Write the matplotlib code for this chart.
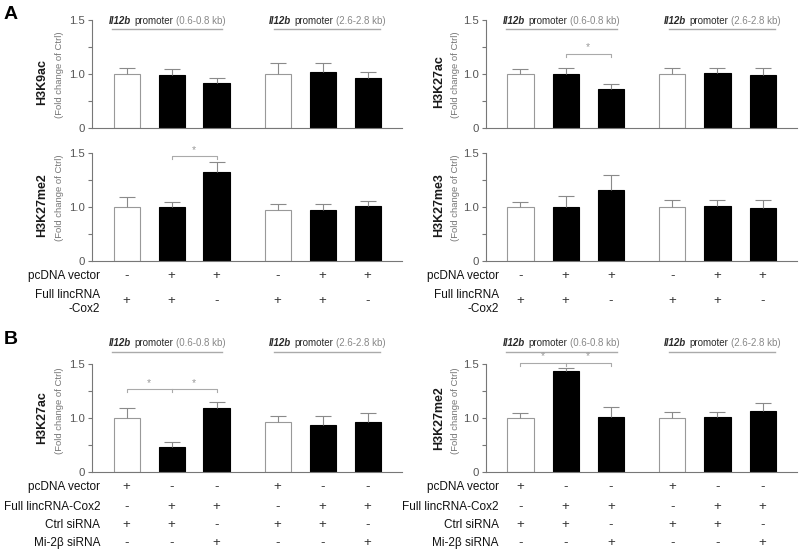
import matplotlib
matplotlib.use('Agg')
import matplotlib.pyplot as plt
import matplotlib.transforms as mtransforms
import numpy as np
from matplotlib.offsetbox import AnnotationBbox, HPacker, TextArea

plt.rcParams['font.family'] = ['Liberation Sans', 'DejaVu Sans']

W, H = 800, 551

# bar positions: two promoter regions, three conditions each
x_pos = [0, 1, 2, 3.36, 4.36, 5.36]
open_bar = [True, False, False, True, False, False]

# panel A
h3k9ac = [1.00, 0.99, 0.83, 1.00, 1.02, 0.93]
h3k9ac_err = [0.06, 0.054, 0.09, 0.10, 0.08, 0.09]
h3k27ac_a = [1.00, 1.00, 0.73, 1.00, 1.01, 0.99]
h3k27ac_a_err = [0.045, 0.06, 0.08, 0.06, 0.05, 0.07]
h3k27me2_a = [1.00, 1.00, 1.33, 0.94, 0.94, 1.015]
h3k27me2_a_err = [0.09, 0.05, 0.085, 0.09, 0.09, 0.04]
h3k27me3_a = [1.00, 1.00, 1.155, 1.00, 1.01, 0.99]
h3k27me3_a_err = [0.05, 0.10, 0.14, 0.065, 0.055, 0.075]

# panel B
h3k27ac_b = [1.00, 0.46, 1.10, 0.93, 0.88, 0.93]
h3k27ac_b_err = [0.095, 0.10, 0.05, 0.09, 0.14, 0.12]
h3k27me2_b = [1.00, 1.44, 1.015, 1.00, 1.015, 1.07]
h3k27me2_b_err = [0.046, 0.03, 0.09, 0.06, 0.045, 0.075]

rows_a = ['pcDNA vector', 'Full lincRNA\n-Cox2']
signs_a = [['-', '+', '+', '-', '+', '+'],
           ['+', '+', '-', '+', '+', '-']]
rows_b = ['pcDNA vector', 'Full lincRNA-Cox2', 'Ctrl siRNA', 'Mi-2\u03b2 siRNA']
signs_b = [['+', '-', '-', '+', '-', '-'],
           ['-', '+', '+', '-', '+', '+'],
           ['+', '+', '-', '+', '+', '-'],
           ['-', '-', '+', '-', '-', '+']]

regions = ['0.6-0.8', '2.6-2.8']


def fwd(v):
    v = np.asarray(v, dtype=float)
    return np.where(v <= 1, v, 1 + (v - 1) * 2)


def inv(d):
    d = np.asarray(d, dtype=float)
    return np.where(d <= 1, d, 1 + (d - 1) / 2)


def px_rect(x0, x1, ytop, ybot):
    return [x0 / W, 1 - ybot / H, (x1 - x0) / W, (ybot - ytop) / H]


def draw_bars(ax, vals, errs):
    for x, v, is_open in zip(x_pos, vals, open_bar):
        ax.bar(x, v, width=0.58, color='white' if is_open else 'black',
               edgecolor='#999999' if is_open else 'black', linewidth=0.8, zorder=2)
    _, caps, _ = ax.errorbar(x_pos, vals, yerr=[np.zeros(len(vals)), errs], fmt='none',
                             ecolor='#8a8a8a', elinewidth=0.8, capsize=6, capthick=0.8, zorder=3)
    caps[0].set_visible(False)
    ax.set_yscale('function', functions=(fwd, inv))
    ax.set_ylim(0, 1.5)
    ax.set_xlim(-0.77, 6.12)
    ax.set_yticks([0, 0.5, 1.0, 1.25, 1.5])
    ax.set_yticklabels(['0', '', '1.0', '', '1.5'])
    ax.minorticks_off()
    ax.set_xticks([])
    ax.tick_params(axis='y', direction='out', length=3, width=0.8, color='#777777',
                   labelsize=8.2, labelcolor='#555555', pad=2)
    for side in ('top', 'right'):
        ax.spines[side].set_visible(False)
    for side in ('left', 'bottom'):
        ax.spines[side].set_color('#777777')
        ax.spines[side].set_linewidth(0.8)


def ylabel(fig, x_px, cy_px, name):
    fig.text(x_px / W, 1 - cy_px / H, name, rotation=90, ha='center', va='center',
             fontsize=9, fontweight='bold', color='#1a1a1a')
    fig.text((x_px + 17) / W, 1 - cy_px / H + 0.014, '(Fold change of Ctrl)', rotation=90,
             ha='center', va='center', fontsize=6.8, color='#777777')


def headers(ax, y_text, y_line):
    tr = mtransforms.blended_transform_factory(ax.transData, ax.transAxes)
    spans = [(x_pos[0] - 0.33, x_pos[2] + 0.13), (x_pos[3] - 0.07, x_pos[5] + 0.28)]
    for (x0, x1), kb in zip(spans, regions):
        ax.plot([x0, x1], [y_line, y_line], transform=tr, color='#aaaaaa', lw=1, clip_on=False)
        pack = HPacker(children=[
            TextArea('Il12b', textprops=dict(fontsize=7, fontstyle='italic', fontweight='bold', color='#2a2a2a')),
            TextArea('promoter', textprops=dict(fontsize=7, color='#2a2a2a')),
            TextArea(f'({kb} kb)', textprops=dict(fontsize=7, color='#888888')),
        ], pad=0, sep=2.2, align='baseline')
        ab = AnnotationBbox(pack, ((x0 + x1) / 2, y_text), xycoords=tr, frameon=False,
                            box_alignment=(0.5, 0.5), pad=0, annotation_clip=False)
        ax.add_artist(ab)


def bracket(ax, xa, xb, y, mids=(), stars=()):
    drop = 0.028
    ax.plot([xa, xa, xb, xb], [y - drop, y, y, y - drop], color='#aaaaaa', lw=0.8, clip_on=False, zorder=4)
    for xm in mids:
        ax.plot([xm, xm], [y, y - drop], color='#aaaaaa', lw=0.8, clip_on=False, zorder=4)
    for xs in stars:
        ax.text(xs, y + 0.012, '*', ha='center', va='bottom', fontsize=7.5, color='#999999', clip_on=False)


def table(fig, ax, label_x_px, labels, signs, label_ys, sign_ys):
    tr = mtransforms.blended_transform_factory(ax.transData, fig.transFigure)
    for lab, row, ly, sy in zip(labels, signs, label_ys, sign_ys):
        fig.text(label_x_px / W, 1 - ly / H, lab, ha='right', va='center', fontsize=8.5,
                 color='#111111', multialignment='right', linespacing=1.15)
        for x, s in zip(x_pos, row):
            ax.text(x, 1 - sy / H, s, transform=tr, ha='center', va='center', fontsize=9.5, color='#333333')


fig = plt.figure(figsize=(W / 100, H / 100), dpi=100)

ax_a1 = fig.add_axes(px_rect(92, 401.7, 20, 128.3))
ax_a2 = fig.add_axes(px_rect(485.7, 797, 20, 128.3))
ax_a3 = fig.add_axes(px_rect(92, 401.7, 153.3, 261))
ax_a4 = fig.add_axes(px_rect(485.7, 797, 153.3, 261))
ax_b1 = fig.add_axes(px_rect(92, 401.7, 364.3, 472.3))
ax_b2 = fig.add_axes(px_rect(485.7, 797, 364.3, 472.3))

draw_bars(ax_a1, h3k9ac, h3k9ac_err)
draw_bars(ax_a2, h3k27ac_a, h3k27ac_a_err)
draw_bars(ax_a3, h3k27me2_a, h3k27me2_a_err)
draw_bars(ax_a4, h3k27me3_a, h3k27me3_a_err)
draw_bars(ax_b1, h3k27ac_b, h3k27ac_b_err)
draw_bars(ax_b2, h3k27me2_b, h3k27me2_b_err)

headers(ax_a1, 0.99, 0.917)
headers(ax_a2, 0.99, 0.917)
headers(ax_b1, 1.197, 1.114)
headers(ax_b2, 1.197, 1.114)

ylabel(fig, 42, 82, 'H3K9ac')
ylabel(fig, 439, 82, 'H3K27ac')
ylabel(fig, 42, 205, 'H3K27me2')
ylabel(fig, 439, 205, 'H3K27me3')
ylabel(fig, 42, 418, 'H3K27ac')
ylabel(fig, 439, 418, 'H3K27me2')

bracket(ax_a2, x_pos[1], x_pos[2], 1.19, stars=[1.5])
bracket(ax_a3, x_pos[1], x_pos[2], 1.475, stars=[1.5])
bracket(ax_b1, x_pos[0], x_pos[2], 1.27, mids=[x_pos[1]], stars=[0.5, 1.5])
bracket(ax_b2, x_pos[0], x_pos[2], 1.515, mids=[x_pos[1]], stars=[0.5, 1.5])

table(fig, ax_a3, 100, rows_a, signs_a, [275.7, 302], [275.7, 300.7])
table(fig, ax_a4, 499, rows_a, signs_a, [275.7, 302], [275.7, 300.7])
table(fig, ax_b1, 100, rows_b, signs_b, [486.7, 506.7, 525, 543.3], [486.7, 506.7, 525, 543.3])
table(fig, ax_b2, 499, rows_b, signs_b, [486.7, 506.7, 525, 543.3], [486.7, 506.7, 525, 543.3])

fig.text(4 / W, 1 - 6 / H, 'A', ha='left', va='top', fontsize=14, fontweight='bold')
fig.text(4 / W, 1 - 331 / H, 'B', ha='left', va='top', fontsize=14, fontweight='bold')

fig.savefig('out.png', dpi=100)
